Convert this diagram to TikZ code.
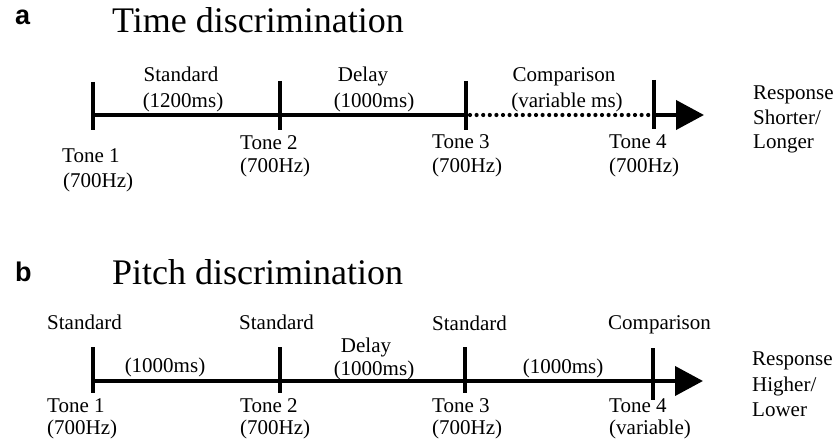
\documentclass[tikz,border=0pt]{standalone}
\usepackage{fontspec}
\setmainfont{Liberation Serif}
\newfontfamily\panelfont{Liberation Sans}
\usetikzlibrary{arrows.meta}
\begin{document}
\begin{tikzpicture}[x=1pt,y=-1pt,
  lbl/.style={inner sep=0pt,font=\fontsize{21}{25}\selectfont},
  lblc/.style={lbl,anchor=base},
  lblw/.style={lbl,anchor=base west},
  ttl/.style={inner sep=0pt,anchor=base west,font=\fontsize{36}{40}\selectfont},
  panel/.style={inner sep=0pt,anchor=base west,font=\panelfont\bfseries\fontsize{27}{29}\selectfont},
  axis/.style={line width=4pt,black},
  tick/.style={line width=4pt,black},
  dotline/.style={line width=4.2pt,line cap=round,dash pattern=on 0pt off 6.6pt},
  arr/.style={-{Triangle[length=28pt,width=29pt]}}]
\useasboundingbox (0,0) rectangle (836,441);

% ---------------- Panel a ----------------
\node[panel] (pa) at (15,25) {a};
\node[ttl] (ta) at (112,33) {Time discrimination};

\coordinate (a1) at (93,115);
\coordinate (a2) at (280,115);
\coordinate (a3) at (466,115);
\coordinate (a4) at (654,115);
\coordinate (aend) at (704,115);
\coordinate (a1t) at (93,82);  \coordinate (a1b) at (93,130);
\coordinate (a2t) at (280,81); \coordinate (a2b) at (280,130);
\coordinate (a3t) at (466,81); \coordinate (a3b) at (466,130);
\coordinate (a4t) at (654,80); \coordinate (a4b) at (654,129);

\draw[axis] (a1) -- (a3);
\draw[dotline] ([xshift=4pt]a3) -- ([xshift=-3pt]a4);
\draw[axis,arr] (a4) -- (aend);
\foreach \t in {1,2,3,4} \draw[tick] (a\t t) -- (a\t b);

\node[lblc] (as1) at (181,82) {Standard};
\node[lblc] (as2) at (183,108) {(1200ms)};
\node[lblc] (ad1) at (363,82) {Delay};
\node[lblc] (ad2) at (374,108) {(1000ms)};
\node[lblc] (ac1) at (564,82) {Comparison};
\node[lblc] (ac2) at (567,108) {(variable ms)};

\node[lblw] (at1) at (62,163) {Tone 1};
\node[lblw] (af1) at (63,188) {(700Hz)};
\node[lblw] (at2) at (240,150) {Tone 2};
\node[lblw] (af2) at (240,173) {(700Hz)};
\node[lblw] (at3) at (432,149) {Tone 3};
\node[lblw] (af3) at (432,173) {(700Hz)};
\node[lblw] (at4) at (609,149) {Tone 4};
\node[lblw] (af4) at (609,173) {(700Hz)};

\node[lblw] (ar1) at (753,100) {Response};
\node[lblw] (ar2) at (753,125) {Shorter/};
\node[lblw] (ar3) at (753,149) {Longer};

% ---------------- Panel b ----------------
\node[panel] (pb) at (15,281) {b};
\node[ttl] (tb) at (112,284) {Pitch discrimination};

\coordinate (b1) at (93,381);
\coordinate (b4) at (653,381);
\coordinate (bend) at (703,381);
\coordinate (b1t) at (93,347);  \coordinate (b1b) at (93,393);
\coordinate (b2t) at (280,347); \coordinate (b2b) at (280,393);
\coordinate (b3t) at (465,347); \coordinate (b3b) at (465,393);
\coordinate (b4t) at (653,348); \coordinate (b4b) at (653,400);

\draw[axis,arr] (b1) -- (bend);
\foreach \t in {1,2,3,4} \draw[tick] (b\t t) -- (b\t b);

\node[lblw] (bs1) at (47,329) {Standard};
\node[lblw] (bs2) at (239,329) {Standard};
\node[lblw] (bs3) at (432,330) {Standard};
\node[lblw] (bc) at (608,329) {Comparison};

\node[lblc] (bm1) at (165,372) {(1000ms)};
\node[lblc] (bd) at (366,352) {Delay};
\node[lblc] (bm2) at (374,375) {(1000ms)};
\node[lblc] (bm3) at (563,373) {(1000ms)};

\node[lblw] (bt1) at (47,412) {Tone 1};
\node[lblw] (bf1) at (47,434) {(700Hz)};
\node[lblw] (bt2) at (240,412) {Tone 2};
\node[lblw] (bf2) at (240,434) {(700Hz)};
\node[lblw] (bt3) at (432,412) {Tone 3};
\node[lblw] (bf3) at (432,434) {(700Hz)};
\node[lblw] (bt4) at (609,412) {Tone 4};
\node[lblw] (bf4) at (609,434) {(variable)};

\node[lblw] (br1) at (752,365) {Response};
\node[lblw] (br2) at (752,391) {Higher/};
\node[lblw] (br3) at (752,416) {Lower};
\end{tikzpicture}
\end{document}
